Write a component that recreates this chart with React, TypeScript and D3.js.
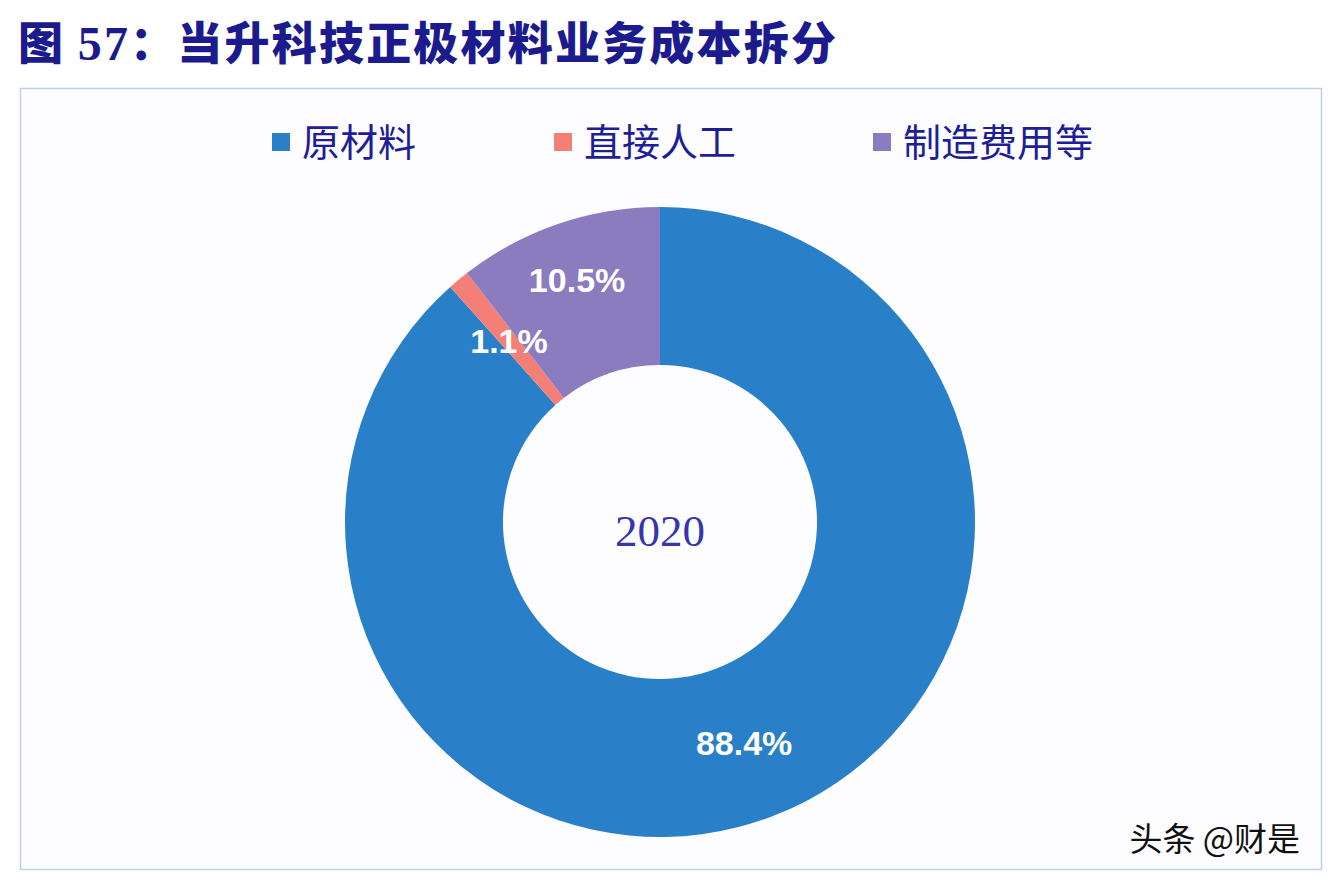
import { useEffect, useRef } from 'react'
import * as d3 from 'd3'

const categories = ['原材料', '直接人工', '制造费用等']
const shares = [88.4, 1.1, 10.5]
const colors = ['#2a80c8', '#f47f76', '#8a7cbe']
const centerLabel = '2020'
const title = '当升科技正极材料业务成本拆分'

export default function App() {
  const svgRef = useRef<SVGSVGElement>(null)

  useEffect(() => {
    if (!svgRef.current) return
    const svg = d3.select(svgRef.current)
    svg.selectAll('*').remove()

    const width = 1328
    const height = 882
    svg.attr('width', width).attr('height', height)

    svg.append('rect').attr('width', width).attr('height', height).attr('fill', '#ffffff')

    // title
    const t = svg.append('text')
      .attr('x', 18)
      .attr('y', 60)
      .attr('fill', '#1b1b8e')
      .attr('font-weight', 900)
      .attr('font-size', 45)
      .attr('textLength', 818)
      .attr('lengthAdjust', 'spacing')
      .style('font-family', '"Noto Sans CJK SC", sans-serif')
    t.append('tspan').text('图 ')
    t.append('tspan').style('font-family', '"Liberation Serif", serif').attr('font-weight', 700).attr('font-size', 48).text('57')
    t.append('tspan').text('：' + title)

    // chart frame
    svg.append('rect')
      .attr('x', 20.5).attr('y', 88.5)
      .attr('width', 1301).attr('height', 781)
      .attr('fill', '#fdfdff')
      .attr('stroke', '#bcd0ec')
      .attr('stroke-width', 1.5)

    // legend
    const legendX = [272, 554, 873]
    categories.forEach((c, i) => {
      const lg = svg.append('g').attr('transform', `translate(${legendX[i]},142)`)
      lg.append('rect').attr('x', 0).attr('y', -9).attr('width', 18).attr('height', 18).attr('fill', colors[i])
      lg.append('text')
        .attr('x', 30).attr('y', 0).attr('dy', '0.36em')
        .attr('fill', '#1e1e96')
        .attr('font-size', 38)
        .style('font-family', '"Noto Sans CJK SC", sans-serif')
        .text(c)
    })

    // donut
    const cx = 660
    const cy = 522
    const outerR = 315
    const innerR = 157

    const pie = d3.pie<number>().sort(null).value(d => d)
    const arcs = pie(shares)
    const arc = d3.arc<d3.PieArcDatum<number>>().innerRadius(innerR).outerRadius(outerR)
    // Excel nudges the small top label outward a little
    const labelArc = d3.arc<d3.PieArcDatum<number>>().innerRadius(innerR).outerRadius(outerR)
    const outerLabelArc = d3.arc<d3.PieArcDatum<number>>().innerRadius(innerR + 40).outerRadius(outerR)

    const g = svg.append('g').attr('transform', `translate(${cx},${cy})`)
    g.selectAll('path.slice')
      .data(arcs)
      .enter()
      .append('path')
      .attr('class', 'slice')
      .attr('d', arc)
      .attr('fill', (_, i) => colors[i])

    g.selectAll('text.lbl')
      .data(arcs)
      .enter()
      .append('text')
      .attr('class', 'lbl')
      .attr('transform', (d, i) => {
        const [x, y] = (i === 2 ? outerLabelArc : labelArc).centroid(d)
        return `translate(${x},${y})`
      })
      .attr('text-anchor', 'middle')
      .attr('dy', '0.36em')
      .attr('fill', '#ffffff')
      .attr('font-weight', 700)
      .attr('font-size', 34)
      .style('font-family', '"Liberation Sans", Arial, sans-serif')
      .text(d => `${d.data.toFixed(1)}%`)

    g.append('text')
      .attr('x', 0).attr('y', 8)
      .attr('text-anchor', 'middle')
      .attr('dy', '0.36em')
      .attr('fill', '#3535ad')
      .attr('font-size', 45)
      .style('font-family', '"Liberation Serif", serif')
      .text(centerLabel)

    // watermark
    svg.append('text')
      .attr('x', 1300).attr('y', 851)
      .attr('text-anchor', 'end')
      .attr('fill', '#111111')
      .attr('font-size', 33)
      .style('font-family', '"Noto Sans CJK SC", sans-serif')
      .style('paint-order', 'stroke')
      .attr('stroke', '#ffffff')
      .attr('stroke-width', 2)
      .text('头条 @财是')
  }, [])

  return (
    <svg
      ref={svgRef}
      style={{ position: 'absolute', left: 0, top: 0, display: 'block' }}
    />
  )
}
